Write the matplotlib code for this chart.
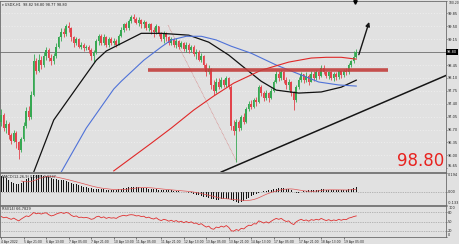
import matplotlib
matplotlib.use('Agg')
import matplotlib.pyplot as plt
import numpy as np

# ---------------- data ----------------
symbol_title = "USDX,H1  98.82 98.80 98.77 98.80"
macd_title = "MACD(12,26,9) 0.0305 0.0237"
rsi_title = "RSI(14) 66.7829"
first_open = 96.90

closes = [97.10, 96.75, 96.85, 96.55, 96.40, 96.60, 96.35, 96.15, 96.45,
          96.80, 97.20, 97.05, 97.65, 98.55, 98.30,
          98.60, 98.45, 98.70, 98.85,
          98.65, 98.55, 98.70, 98.95, 99.20, 99.35,
          99.30, 99.50, 99.45, 99.20, 99.05, 99.15, 98.95,
          99.00, 98.90, 98.95, 98.85, 98.70, 98.80, 99.10, 99.25,
          99.05, 99.20, 99.00, 99.15, 99.05, 99.10, 99.00, 99.25,
          99.40, 99.55, 99.45, 99.65, 99.75, 99.70, 99.60, 99.68,
          99.55, 99.62, 99.45, 99.55, 99.40, 99.35, 99.50, 99.30,
          99.15, 99.30, 99.20, 99.05, 99.15, 99.00,
          99.10, 98.95, 99.05, 98.88, 99.00, 98.85, 98.95, 98.75, 98.80,
          98.60, 98.70, 98.45, 98.25, 98.35, 97.90, 97.75, 98.00,
          97.85, 98.05, 97.90, 98.10, 97.85, 96.80, 96.65, 96.90,
          96.75, 97.05, 96.90, 97.25, 97.40, 97.30, 97.50, 97.45,
          97.85, 97.70, 97.55, 97.70, 97.55, 97.75, 98.00, 98.20, 98.10, 98.25,
          98.05, 97.90, 98.00, 97.70, 97.50, 97.85, 98.05, 98.20, 98.05, 98.15,
          98.00, 98.20, 98.10, 98.25, 98.15, 98.38, 98.25, 98.15,
          98.25, 98.10, 98.20, 98.12, 98.28, 98.18, 98.30, 98.25, 98.45, 98.55, 98.68, 98.80]

highs = [97.25, 97.15, 96.95, 96.90, 96.60, 96.70, 96.65, 96.40, 96.50,
         96.90, 97.30, 97.35, 97.75, 98.75, 98.65,
         98.75, 98.70, 98.80, 98.95,
         98.90, 98.75, 98.78, 99.05, 99.25, 99.45,
         99.45, 99.55, 99.62, 99.48, 99.25, 99.22, 99.18,
         99.08, 99.05, 99.00, 99.00, 98.90, 98.85, 99.15, 99.30,
         99.30, 99.28, 99.25, 99.22, 99.20, 99.18, 99.15, 99.30,
         99.48, 99.60, 99.62, 99.70, 99.80, 99.84, 99.76, 99.74,
         99.70, 99.68, 99.65, 99.60, 99.58, 99.48, 99.55, 99.52,
         99.35, 99.38, 99.35, 99.25, 99.22, 99.18,
         99.18, 99.12, 99.10, 99.08, 99.08, 99.05, 99.00, 98.98, 98.88,
         98.85, 98.78, 98.72, 98.50, 98.45, 98.38, 98.05, 98.10,
         98.10, 98.12, 98.08, 98.15, 98.12, 97.90, 96.95, 97.00,
         96.95, 97.10, 97.15, 97.30, 97.48, 97.50, 97.55, 97.58,
         97.92, 97.90, 97.75, 97.78, 97.72, 97.82, 98.05, 98.28, 98.30, 98.32,
         98.30, 98.12, 98.08, 98.02, 97.75, 97.90, 98.12, 98.25, 98.22, 98.25,
         98.20, 98.28, 98.30, 98.32, 98.30, 98.45, 98.45, 98.30,
         98.30, 98.28, 98.25, 98.25, 98.32, 98.30, 98.35, 98.36, 98.50, 98.60, 98.82, 98.88]

lows = [96.80, 96.65, 96.60, 96.45, 96.30, 96.35, 96.20, 95.90, 96.10,
        96.40, 96.75, 96.95, 97.00, 97.60, 98.20,
        98.25, 98.35, 98.40, 98.60,
        98.55, 98.45, 98.48, 98.65, 98.90, 99.10,
        99.20, 99.25, 99.35, 99.10, 98.95, 98.98, 98.90,
        98.88, 98.82, 98.85, 98.78, 98.60, 98.52, 98.75, 99.00,
        99.00, 99.00, 98.95, 98.95, 99.00, 98.98, 98.95, 98.98,
        99.20, 99.35, 99.40, 99.40, 99.60, 99.62, 99.55, 99.52,
        99.45, 99.45, 99.40, 99.38, 99.30, 99.22, 99.30, 99.25,
        99.10, 99.05, 99.10, 98.98, 99.00, 98.95,
        98.92, 98.88, 98.90, 98.82, 98.80, 98.78, 98.80, 98.70, 98.62,
        98.55, 98.52, 98.38, 98.15, 98.20, 97.80, 97.65, 97.70,
        97.80, 97.82, 97.85, 97.85, 97.80, 96.70, 96.55, 95.82,
        96.65, 96.70, 96.85, 96.88, 97.20, 97.25, 97.28, 97.35,
        97.42, 97.60, 97.48, 97.50, 97.45, 97.52, 97.72, 97.95, 98.02, 98.05,
        97.95, 97.80, 97.78, 97.60, 97.23, 97.45, 97.80, 97.98, 97.95, 98.00,
        97.92, 97.98, 98.02, 98.05, 98.08, 98.12, 98.20, 98.10,
        98.08, 98.05, 98.02, 98.05, 98.08, 98.10, 98.12, 98.18, 98.22, 98.40, 98.50, 98.65]

ma_black_bars = [13, 21, 30, 38, 42, 49, 56, 64, 75, 83, 91, 97, 104, 110, 119, 128, 136, 142]
ma_black_vals = [95.55, 96.96, 97.82, 98.58, 98.83, 99.07, 99.31, 99.31, 99.26, 99.07,
                 98.72, 98.39, 98.01, 97.77, 97.69, 97.72, 97.85, 98.04]
ma_blue_bars = [24, 34, 45, 48, 57, 64, 68, 74, 80, 86, 92, 100, 110, 120, 127, 135, 142]
ma_blue_vals = [95.55, 96.74, 97.80, 98.01, 98.58, 98.94, 99.13, 99.23, 99.23, 99.13,
                98.96, 98.77, 98.45, 98.18, 97.99, 97.91, 97.88]
ma_red_bars = [45, 52, 60, 68, 77, 85, 93, 104, 115, 124, 130, 136, 142]
ma_red_vals = [95.58, 95.93, 96.33, 96.74, 97.23, 97.61, 97.96, 98.31, 98.53, 98.64,
               98.66, 98.66, 98.61]

macd_vals = [0.16, 0.15, 0.14, 0.12,
             0.10, 0.09, 0.08, 0.08, 0.09,
             0.11, 0.13, 0.14, 0.15, 0.17, 0.17,
             0.17, 0.17, 0.16, 0.16, 0.15, 0.14, 0.13, 0.13, 0.12, 0.12,
             0.12, 0.11, 0.10, 0.09, 0.08, 0.08, 0.07, 0.06,
             0.05, 0.05, 0.04, 0.04,
             0.03, 0.03, 0.03, 0.03, 0.03, 0.02, 0.02, 0.02, 0.02, 0.02, 0.03, 0.03, 0.04, 0.04,
             0.05, 0.05, 0.05, 0.05, 0.05, 0.04, 0.04, 0.04,
             0.03, 0.03, 0.03, 0.03, 0.02, 0.02,
             0.02, 0.02, 0.02, 0.02, 0.01, 0.01,
             0.01, 0.00, 0.00, 0.00, -0.01, -0.01,
             -0.02, -0.03, -0.03, -0.04, -0.05, -0.05, -0.06, -0.07, -0.07, -0.08,
             -0.08, -0.07, -0.07, -0.07, -0.07, -0.08,
             -0.09, -0.10, -0.11, -0.10,
             -0.09, -0.07, -0.06, -0.04,
             -0.03, -0.02, -0.01, 0.00,
             0.01, 0.01, 0.02, 0.02, 0.03, 0.03, 0.04, 0.04, 0.04, 0.03, 0.03, 0.02,
             0.00, -0.01, -0.01, 0.00,
             0.01, 0.01, 0.02, 0.02, 0.02, 0.02, 0.02, 0.03, 0.03, 0.02,
             0.02, 0.02, 0.02, 0.02, 0.02, 0.02, 0.02, 0.02, 0.03, 0.03,
             0.04, 0.05]

rsi_vals = [66, 62, 64, 60,
            57, 61, 56, 52, 58,
            63, 68, 66, 72,
            79, 75, 77, 74,
            77, 78, 72,
            68, 70, 74,
            77, 79, 76, 79, 77, 70,
            66, 68, 63, 64,
            62, 63, 61, 57, 59, 65,
            67, 62, 65, 60, 63, 61, 62, 60,
            65, 68, 70, 68, 71, 72,
            71, 68, 69, 66,
            67, 62, 64, 60,
            58, 62, 56, 53, 57, 55,
            51, 54, 50, 53,
            48, 51, 46, 50,
            46, 49, 44, 45, 40, 43,
            37, 32, 35, 27, 25, 32,
            30, 35, 32, 37, 31, 20,
            19, 24, 21, 28,
            26, 33, 38, 37,
            43, 42, 52, 49,
            45, 49, 45, 51,
            56, 60, 57, 60,
            54, 50, 52, 44,
            40, 49, 54, 57,
            53, 55, 51, 56, 54, 57, 55, 60,
            56, 53, 56, 52, 55, 53, 57, 54, 57, 56,
            61, 63, 66, 68]

last_price = 98.80
sr_level = 98.31
price_ticks = [100.20, 99.85, 99.50, 99.15, 98.45, 98.10, 97.75, 97.40, 97.05, 96.70, 96.35, 96.00, 95.65]
macd_ticks = [0.194, 0.0, -0.133]
macd_tick_labels = ["0.194", "0.00", "-0.133"]
rsi_ticks = [100, 80, 50, 20, 0]
rsi_levels = [80, 50, 20]
date_tick_bars = [0, 9, 18, 27, 36, 45, 54, 64, 73, 82, 91, 100, 109, 119, 128, 137]
date_labels = ["4 Apr 2022", "5 Apr 21:00", "6 Apr 13:00", "7 Apr 05:00", "7 Apr 21:00",
               "10 Apr 13:00", "11 Apr 05:00", "11 Apr 21:00", "12 Apr 13:00", "13 Apr 05:00",
               "13 Apr 21:00", "14 Apr 13:00", "17 Apr 05:00", "17 Apr 21:00", "18 Apr 13:00",
               "19 Apr 05:00"]

# ---------------- drawing ----------------
BG = '#e1e1e1'
GREEN = '#36a852'
RED = '#e2434b'
SPINE = '#6a6a6a'
W, H = 460, 244
TFS = 2.5

fig = plt.figure(figsize=(W / 100, H / 100), dpi=100, facecolor=BG)


def axes_px(x0, y0, x1, y1):
    a = fig.add_axes([x0 / W, 1 - y1 / H, (x1 - x0) / W, (y1 - y0) / H])
    a.set_facecolor(BG)
    for s in a.spines.values():
        s.set_color(SPINE)
        s.set_linewidth(0.6)
    a.set_xlim(-0.5, 177.9)
    a.yaxis.tick_right()
    a.tick_params(axis='y', labelsize=TFS, length=1.0, width=0.4, pad=0.6,
                  colors='#222222')
    return a


ax = axes_px(0, 0.5, 446, 172)
axm = axes_px(0, 173, 446, 205)
axr = axes_px(0, 206, 446, 237)

# main panel
c = np.array(closes)
n = len(c)
hi = np.array(highs[:n])
lo = np.array(lows[:n])
idx = np.arange(n)
o = np.r_[first_open, c[:-1]]
up = c >= o
cols = np.where(up, GREEN, RED)

ax.set_ylim(95.55, 100.20)
ax.set_xticks([])
ax.set_yticks(price_ticks)
ax.set_yticklabels([f"{v:.2f}" for v in price_ticks])
lab = ax.get_yticklabels()
lab[0].set_va('top')
lab[0].set_fontsize(2.2)
lab[-1].set_va('bottom')
ax.hlines(price_ticks, -0.5, 177.9, colors='white', lw=0.4, linestyles=(0, (2, 3)), alpha=0.7)

ax.vlines(idx, np.minimum(lo, np.minimum(o, c)), np.maximum(hi, np.maximum(o, c)),
          colors=cols, lw=0.6, zorder=3)
body = np.maximum(np.abs(c - o), 0.012)
ax.bar(idx, body, bottom=np.minimum(o, c), width=0.6, color=cols, lw=0, zorder=3)

ax.plot(ma_black_bars, ma_black_vals, color='#111111', lw=0.9, zorder=4)
ax.plot(ma_blue_bars, ma_blue_vals, color='#4f72d8', lw=0.8, zorder=4)
ax.plot(ma_red_bars, ma_red_vals, color='#e02828', lw=0.8, zorder=4)

ax.axhline(last_price, color='#6e6e6e', lw=0.6, zorder=2)
ax.hlines(sr_level, 58.7, 154.7, colors='#c23f3d', lw=2.6, alpha=0.9, zorder=5)
ax.plot([88, 178], [95.55, 98.17], color='#151515', lw=1.1, zorder=5)
ax.plot([66.7, 94.3], [99.53, 95.82], color='#d47a7a', lw=0.5, ls=(0, (1, 1)), zorder=2)
ax.annotate('', xy=(147.5, 99.69), xytext=(142.7, 98.66),
            arrowprops=dict(arrowstyle='-|>', color='#151515', lw=1.0, mutation_scale=6),
            zorder=6)
ax.plot([141.5], [100.16], marker='v', ms=2.5, color='black', clip_on=False, zorder=6)

ax.text(0.004, 0.985, "\u25be " + symbol_title, transform=ax.transAxes, fontsize=TFS,
        va='top', ha='left', color='#222222')

fig.text(444 / W, 1 - 161 / H, f"{last_price:.2f}", ha='right', va='center',
         fontsize=12, color='#e8231f')
fig.text(447 / W, 1 - 52 / H, f"{last_price:.2f}", ha='left', va='center', fontsize=TFS,
         color='white', bbox=dict(facecolor='black', edgecolor='none', pad=0.5))

# MACD panel
m = np.array(macd_vals[:n])
mi = np.arange(len(m))
axm.set_ylim(-0.133, 0.194)
axm.set_xticks([])
axm.set_yticks(macd_ticks)
axm.set_yticklabels(macd_tick_labels)
lab = axm.get_yticklabels()
lab[0].set_va('top')
lab[-1].set_va('bottom')
axm.axhline(0, color='#8a8a8a', lw=0.5, ls=(0, (1, 1.5)))
axm.bar(mi, m, width=0.55, color='#151515', lw=0)
sig = np.convolve(m, np.ones(9) / 9, mode='valid')
axm.plot(mi[8:], sig, color='#e05555', lw=0.5)
axm.text(0.004, 0.95, macd_title, transform=axm.transAxes, fontsize=TFS, va='top',
         ha='left', color='#222222')

# RSI panel
r = np.array(rsi_vals[:n])
axr.set_ylim(0, 100)
axr.set_yticks(rsi_ticks)
axr.set_yticklabels([str(v) for v in rsi_ticks])
lab = axr.get_yticklabels()
lab[0].set_va('top')
lab[-1].set_va('bottom')
axr.hlines(rsi_levels, -0.5, 177.9, colors='#8a8a8a', lw=0.5, linestyles=(0, (1, 1.5)))
axr.plot(np.arange(len(r)), r, color='#e03030', lw=0.6)
axr.text(0.004, 0.97, rsi_title, transform=axr.transAxes, fontsize=TFS, va='top',
         ha='left', color='#222222')
axr.set_xticks(date_tick_bars)
axr.set_xticklabels(date_labels)
axr.tick_params(axis='x', labelsize=2.2, length=1.5, width=0.4, pad=1, colors='#222222')
for lbl in axr.get_xticklabels():
    lbl.set_ha('left')

fig.savefig('out.png', dpi=100, facecolor=BG)
